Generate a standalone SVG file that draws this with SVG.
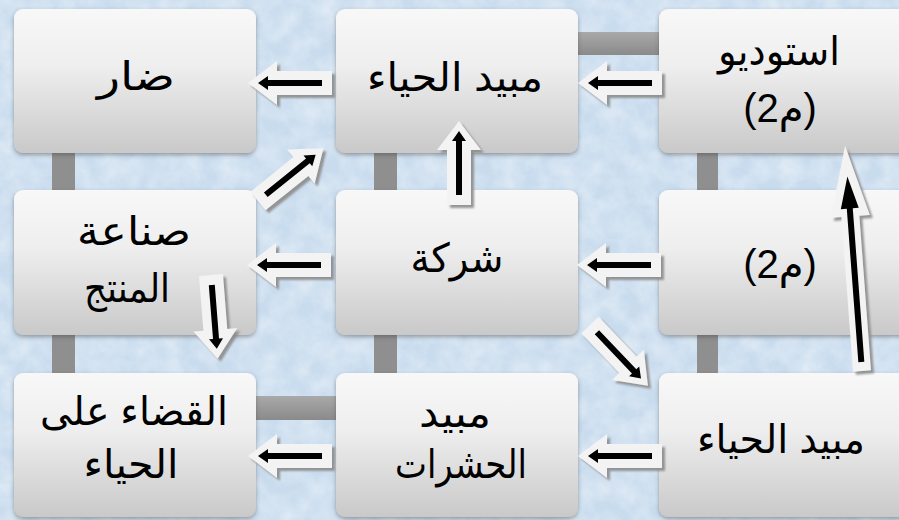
<svg xmlns="http://www.w3.org/2000/svg" xmlns:xlink="http://www.w3.org/1999/xlink" width="899" height="520" viewBox="0 0 899 520">
<defs>
<style>
.node rect{fill:url(#ng);filter:url(#nsh)}
.node text{font-family:"Liberation Sans","DejaVu Sans",sans-serif;font-size:40px;fill:#000;text-anchor:middle}
.bar{fill:url(#bg)}
.vbar{fill:#8f8f8f}
.aw{fill:#f3f3f3}
.ab{fill:#000}
</style>
<linearGradient id="ng" x1="0" y1="0" x2="0" y2="1">
<stop offset="0" stop-color="#f8f8f8"/>
<stop offset="0.4" stop-color="#eeeeee"/>
<stop offset="1" stop-color="#c9c9c9"/>
</linearGradient>
<linearGradient id="bg" x1="0" y1="0" x2="0" y2="1">
<stop offset="0" stop-color="#a9a9a9"/>
<stop offset="1" stop-color="#8a8a8a"/>
</linearGradient>
<filter id="nsh" x="-10%" y="-10%" width="120%" height="125%">
<feDropShadow dx="0" dy="2" stdDeviation="2" flood-color="#404040" flood-opacity="0.45"/>
</filter>
<filter id="ash" x="-20%" y="-20%" width="140%" height="140%">
<feDropShadow dx="3" dy="3" stdDeviation="0.8" flood-color="#8a8a8a" flood-opacity="0.9"/>
</filter>
<filter id="tex" x="0" y="0" width="100%" height="100%">
<feTurbulence type="fractalNoise" baseFrequency="0.05" numOctaves="4" seed="7"/>
<feColorMatrix type="matrix" values="0 0 0 0 1  0 0 0 0 1  0 0 0 0 1  1.0 0 0 0 -0.3"/>
</filter>
<path id="a84w" d="M0,-12H55V-22L84,0L55,22V12H0Z"/>
<path id="a84b" d="M10,-3H64V-7L74,0L64,7V3H10Z"/>
</defs>
<rect width="899" height="520" fill="#c9dcee"/>
<rect width="899" height="520" filter="url(#tex)" opacity="0.7"/>

<g id="bars">
<rect class="vbar" x="52" y="120" width="23" height="280"/>
<rect class="vbar" x="374" y="120" width="23" height="280"/>
<rect class="vbar" x="697" y="120" width="21" height="280"/>
<rect class="bar" x="560" y="32" width="120" height="23"/>
<rect class="bar" x="240" y="396" width="120" height="24"/>
</g>

<g id="n-dar" class="node"><rect x="14" y="9" width="242" height="144" rx="9"/><text x="136" y="90" textLength="78" lengthAdjust="spacingAndGlyphs">ضار</text></g>
<g id="n-mubid1" class="node"><rect x="336" y="9" width="242" height="144" rx="9"/><text x="455" y="91" textLength="176" lengthAdjust="spacingAndGlyphs">مبيد الحياء</text></g>
<g id="n-studio" class="node"><rect x="659" y="9" width="250" height="144" rx="9"/><text x="779" y="65" textLength="122" lengthAdjust="spacingAndGlyphs">استوديو</text><text x="780" y="122">(2م)</text></g>
<g id="n-sinaa" class="node"><rect x="14" y="190" width="242" height="145" rx="9"/><text x="134" y="245" textLength="114" lengthAdjust="spacingAndGlyphs">صناعة</text><text x="127" y="302" textLength="86" lengthAdjust="spacingAndGlyphs">المنتج</text></g>
<g id="n-sharika" class="node"><rect x="336" y="190" width="242" height="145" rx="9"/><text x="457" y="272" textLength="93" lengthAdjust="spacingAndGlyphs">شركة</text></g>
<g id="n-m2" class="node"><rect x="659" y="190" width="250" height="145" rx="9"/><text x="780" y="278">(2م)</text></g>
<g id="n-qada" class="node"><rect x="14" y="373" width="242" height="144" rx="9"/><text x="134" y="425" textLength="188" lengthAdjust="spacingAndGlyphs">القضاء على</text><text x="131" y="478" textLength="95" lengthAdjust="spacingAndGlyphs">الحياء</text></g>
<g id="n-hasharat" class="node"><rect x="336" y="373" width="242" height="144" rx="9"/><text x="455" y="427" textLength="72" lengthAdjust="spacingAndGlyphs">مبيد</text><text x="461" y="478" textLength="132" lengthAdjust="spacingAndGlyphs">الحشرات</text></g>
<g id="n-mubid2" class="node"><rect x="659" y="373" width="250" height="144" rx="9"/><text x="781" y="453" textLength="168" lengthAdjust="spacingAndGlyphs">مبيد الحياء</text></g>

<g id="connectors">
<g filter="url(#ash)"><use xlink:href="#a84w" class="aw" transform="translate(332,83) rotate(180)"/></g>
<use xlink:href="#a84b" class="ab" transform="translate(332,83) rotate(180)"/>
<g filter="url(#ash)"><use xlink:href="#a84w" class="aw" transform="translate(662,83) rotate(180)"/></g>
<use xlink:href="#a84b" class="ab" transform="translate(662,83) rotate(180)"/>
<g filter="url(#ash)"><use xlink:href="#a84w" class="aw" transform="translate(331,265) rotate(180)"/></g>
<use xlink:href="#a84b" class="ab" transform="translate(331,265) rotate(180)"/>
<g filter="url(#ash)"><use xlink:href="#a84w" class="aw" transform="translate(661,265) rotate(180)"/></g>
<use xlink:href="#a84b" class="ab" transform="translate(661,265) rotate(180)"/>
<g filter="url(#ash)"><use xlink:href="#a84w" class="aw" transform="translate(332,456) rotate(180)"/></g>
<use xlink:href="#a84b" class="ab" transform="translate(332,456) rotate(180)"/>
<g filter="url(#ash)"><use xlink:href="#a84w" class="aw" transform="translate(662,456) rotate(180)"/></g>
<use xlink:href="#a84b" class="ab" transform="translate(662,456) rotate(180)"/>
<g filter="url(#ash)"><use xlink:href="#a84w" class="aw" transform="translate(258,201) rotate(-38.8)"/></g>
<use xlink:href="#a84b" class="ab" transform="translate(258,201) rotate(-38.8)"/>
<g filter="url(#ash)"><use xlink:href="#a84w" class="aw" transform="translate(459,205) rotate(-90)"/></g>
<use xlink:href="#a84b" class="ab" transform="translate(459,205) rotate(-90)"/>
<g filter="url(#ash)"><use xlink:href="#a84w" class="aw" transform="translate(211,275) rotate(85.5)"/></g>
<use xlink:href="#a84b" class="ab" transform="translate(211,275) rotate(85.5)"/>
<g filter="url(#ash)"><use xlink:href="#a84w" class="aw" transform="translate(590,325) rotate(46.4)"/></g>
<use xlink:href="#a84b" class="ab" transform="translate(590,325) rotate(46.4)"/>
<g filter="url(#ash)"><path class="aw" d="M0,-9H155V-19.5L226,0L155,19.5V9H0Z" transform="translate(862,371) rotate(-94.3)"/></g>
<path class="ab" d="M9,-3H163V-9L195,0L163,9V3H9Z" transform="translate(862,371) rotate(-94.3)"/>
</g>
</svg>
